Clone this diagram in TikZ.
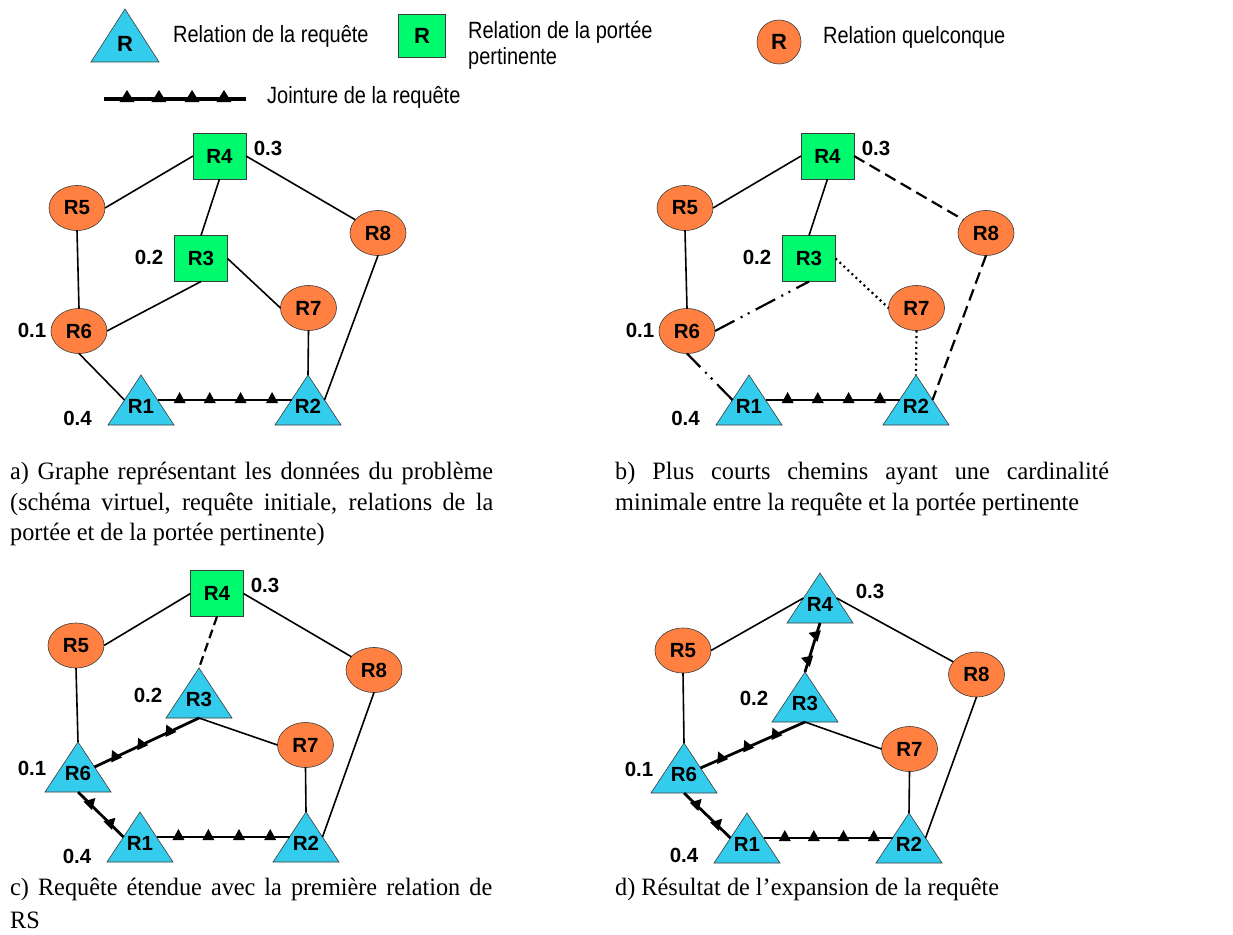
\documentclass[tikz,border=0pt]{standalone}
\usepackage{fontspec}
\setmainfont{Liberation Serif}[FakeStretch=0.97]
\setsansfont{Liberation Sans}
\newfontfamily\legfont{Liberation Sans}[FakeStretch=0.85]
\usetikzlibrary{shapes.geometric,decorations.markings}
\definecolor{cyanc}{RGB}{51,204,236}
\definecolor{greenc}{RGB}{0,250,110}
\definecolor{orangec}{RGB}{255,128,64}
\definecolor{bordc}{RGB}{60,60,60}
\newcommand\jtri{\fill (-6pt,-3pt) -- (6pt,-3pt) -- (0pt,8pt) -- cycle;}
\newcommand\jtrib{\fill (-7.5pt,-3pt) -- (7.5pt,-3pt) -- (0pt,9pt) -- cycle;}
\begin{document}
\begin{tikzpicture}[x=1pt,y=-1pt,
 nodefont/.style={font=\sffamily\bfseries\fontsize{20.5}{20.5}\selectfont},
 tri/.style={isosceles triangle, isosceles triangle stretches=true, shape border rotate=90, minimum width=66pt, minimum height=50pt, inner sep=0pt, outer sep=0pt, fill=cyanc, draw=bordc, line width=0.6pt, anchor=apex},
 sq/.style={rectangle, minimum width=53pt, minimum height=46pt, inner sep=0pt, outer sep=0pt, fill=greenc, draw=bordc, line width=0.6pt, nodefont},
 ell/.style={ellipse, minimum width=56pt, minimum height=45pt, inner sep=0pt, outer sep=0pt, fill=orangec, draw=bordc, line width=0.6pt, nodefont},
 tlab/.style={nodefont, inner sep=0pt},
 num/.style={nodefont, inner sep=0pt},
 legtxt/.style={font=\legfont\fontsize{23.5}{27}\selectfont, inner sep=0pt, anchor=base west},
 captxt/.style={font=\fontsize{25}{30}\selectfont, inner sep=0pt, anchor=base west},
 edge/.style={line width=1.6pt},
 dashedge/.style={line width=2.2pt, dash pattern=on 12pt off 6pt},
 shortdash/.style={line width=2.2pt, dash pattern=on 9pt off 5pt},
 dotedge/.style={line width=2.2pt, dash pattern=on 2pt off 3.5pt},
 dddedge/.style={line width=2.2pt, dash pattern=on 22pt off 7pt on 2pt off 6pt on 2pt off 7pt},
 jfour/.style={line width=2.8pt, postaction={decorate}, decoration={markings,
   mark=at position 0.165 with {\jtri}, mark=at position 0.39 with {\jtri},
   mark=at position 0.62 with {\jtri}, mark=at position 0.855 with {\jtri}}},
 jthree/.style={line width=2.8pt, postaction={decorate}, decoration={markings,
   mark=at position 0.2 with {\jtri}, mark=at position 0.45 with {\jtri},
   mark=at position 0.72 with {\jtri}}},
 jtwo/.style 2 args={line width=2.8pt, postaction={decorate}, decoration={markings,
   mark=at position #1 with {\jtri}, mark=at position #2 with {\jtri}}},
 jleg/.style={line width=3.2pt, postaction={decorate}, decoration={markings,
   mark=at position 0.162 with {\jtrib}, mark=at position 0.387 with {\jtrib},
   mark=at position 0.62 with {\jtrib}, mark=at position 0.845 with {\jtrib}}}
]
\fill[white] (0,0) rectangle (1233,934);
\useasboundingbox (0,0) rectangle (1233,934);

% ---------------- legend ----------------
\node[tri, minimum width=68pt, minimum height=53pt] (lgTri) at (125,9) {};
\node[tlab, font=\sffamily\bfseries\fontsize{22}{22}\selectfont] (lgTriT) at (125,44) {R};
\node[legtxt] (lgT1) at (173,43) {Relation de la requête};
\node[sq, minimum width=47pt, minimum height=43pt, font=\sffamily\bfseries\fontsize{22}{22}\selectfont] (lgSq) at (422,36) {R};
\node[legtxt] (lgT2a) at (468,38) {Relation de la portée};
\node[legtxt] (lgT2b) at (468,64) {pertinente};
\node[ell, minimum width=44pt, minimum height=44pt, font=\sffamily\bfseries\fontsize{22}{22}\selectfont] (lgEl) at (779,42) {R};
\node[legtxt] (lgT3) at (823,44) {Relation quelconque};
\coordinate (lgA) at (104,99);
\coordinate (lgB) at (246,99);
\draw[jleg] (lgA) -- (lgB);
\node[legtxt] (lgT4) at (267,103) {Jointure de la requête};

% ---------------- panel a ----------------
\node[sq] (aR4) at (219.5,156) {R4};
\node[sq] (aR3) at (201,258.5) {R3};
\node[ell] (aR5) at (77,208) {R5};
\node[ell] (aR6) at (79,331) {R6};
\node[ell] (aR7) at (308.5,308) {R7};
\node[ell] (aR8) at (378,233) {R8};
\node[tri] (aR1) at (141,375) {};
\node[tri] (aR2) at (308,375) {};
\draw[edge] (aR4.west) -- (aR5.east);
\draw[edge] (aR4.south) -- (aR3.north);
\draw[edge] (aR4.east) -- (aR8);
\draw[edge] (aR5.south) -- (aR6.north);
\draw[edge] (aR3.south) -- (aR6.east);
\draw[edge] (aR3.east) -- (aR7.west);
\draw[edge] (aR6.south) -- (aR1.left side);
\draw[edge] (aR7.south) -- (aR2.apex);
\draw[edge] (aR8.south) -- (aR2.right side);
\draw[jfour] (aR1.right side) -- (aR2.left side);
\node[tlab] (aR1t) at (141,406) {R1};
\node[tlab] (aR2t) at (308,406) {R2};
\node[num] (aN3) at (268,148) {0.3};
\node[num] (aN2) at (149,257) {0.2};
\node[num] (aN1) at (32,330) {0.1};
\node[num] (aN4) at (77.5,418) {0.4};

% ---------------- panel b ----------------
\node[sq] (bR4) at (827.5,156) {R4};
\node[sq] (bR3) at (809,258.5) {R3};
\node[ell] (bR5) at (685,208) {R5};
\node[ell] (bR6) at (687,331) {R6};
\node[ell] (bR7) at (916.5,308) {R7};
\node[ell] (bR8) at (986,233) {R8};
\node[tri] (bR1) at (749,375) {};
\node[tri] (bR2) at (916,375) {};
\draw[edge] (bR4.west) -- (bR5.east);
\draw[edge] (bR4.south) -- (bR3.north);
\draw[dashedge] (bR4.east) -- (bR8);
\draw[edge] (bR5.south) -- (bR6.north);
\draw[dddedge] (bR6.east) -- (bR3.south);
\draw[dotedge] (bR3.east) -- (bR7.west);
\draw[dddedge] (bR1.left side) -- (bR6.south);
\draw[dotedge] (bR7.south) -- (bR2.apex);
\draw[dashedge] (bR8.south) -- (bR2.right side);
\draw[jfour] (bR1.right side) -- (bR2.left side);
\node[tlab] (bR1t) at (749,406) {R1};
\node[tlab] (bR2t) at (916,406) {R2};
\node[num] (bN3) at (876,148) {0.3};
\node[num] (bN2) at (757,257) {0.2};
\node[num] (bN1) at (640,330) {0.1};
\node[num] (bN4) at (685.5,418) {0.4};

% ---------------- panel c ----------------
\node[sq] (cR4) at (217,593.5) {R4};
\node[ell] (cR5) at (76,645.5) {R5};
\node[ell] (cR8) at (374,670) {R8};
\node[ell] (cR7) at (305.5,745) {R7};
\node[tri] (cR3) at (199,668) {};
\node[tri] (cR6) at (78,742) {};
\node[tri] (cR1) at (140,812) {};
\node[tri] (cR2) at (306,812) {};
\draw[edge] (cR4.west) -- (cR5.east);
\draw[edge] (cR4.east) -- (cR8);
\draw[shortdash] (cR4.south) -- (cR3.apex);
\draw[edge] (cR5.south) -- (cR6.apex);
\draw[jthree] (cR6.right side) -- (cR3.lower side);
\draw[edge] (cR3.lower side) -- (cR7.west);
\draw[edge] (cR7.south) -- (cR2.apex);
\draw[edge] (cR8.south) -- (cR2.right side);
\draw[jtwo={0.26}{0.70}] (cR6.lower side) -- (cR1.left side);
\draw[jfour] (cR1.right side) -- (cR2.left side);
\node[tlab] (cR3t) at (199,699) {R3};
\node[tlab] (cR6t) at (78,773) {R6};
\node[tlab] (cR1t) at (140,843) {R1};
\node[tlab] (cR2t) at (306,843) {R2};
\node[num] (cN3) at (265,585) {0.3};
\node[num] (cN2) at (148,695) {0.2};
\node[num] (cN1) at (32,768) {0.1};
\node[num] (cN4) at (77,856) {0.4};

% ---------------- panel d ----------------
\node[tri] (dR4) at (820,573) {};
\node[ell] (dR5) at (683,650.5) {R5};
\node[ell] (dR8) at (976.5,674.5) {R8};
\node[ell] (dR7) at (909.5,749) {R7};
\node[tri] (dR3) at (805,672) {};
\node[tri] (dR6) at (684,743) {};
\node[tri] (dR1) at (747,813) {};
\node[tri] (dR2) at (909,813) {};
\draw[edge] (dR4.left side) -- (dR5.east);
\draw[edge] (dR4.right side) -- (dR8);
\draw[jtwo={0.24}{0.75}] (dR3.apex) -- (dR4.lower side);
\draw[edge] (dR5.south) -- (dR6.apex);
\draw[jthree] (dR6.right side) -- (dR3.lower side);
\draw[edge] (dR3.lower side) -- (dR7.west);
\draw[edge] (dR7.south) -- (dR2.apex);
\draw[edge] (dR8.south) -- (dR2.right side);
\draw[jtwo={0.26}{0.70}] (dR6.lower side) -- (dR1.left side);
\draw[jfour] (dR1.right side) -- (dR2.left side);
\node[tlab] (dR4t) at (820,604) {R4};
\node[tlab] (dR3t) at (805,703) {R3};
\node[tlab] (dR6t) at (684,774) {R6};
\node[tlab] (dR1t) at (747,844) {R1};
\node[tlab] (dR2t) at (909,844) {R2};
\node[num] (dN3) at (870,591) {0.3};
\node[num] (dN2) at (754,698) {0.2};
\node[num] (dN1) at (639,769) {0.1};
\node[num] (dN4) at (684,855) {0.4};

% ---------------- captions ----------------
\node[captxt] (capA1) at (10,479) {\hbox to 483pt{a) Graphe représentant les données du problème}};
\node[captxt] (capA2) at (10,510) {\hbox to 483pt{(schéma virtuel, requête initiale, relations de la}};
\node[captxt] (capA3) at (10,540) {portée et de la portée pertinente)};
\node[captxt] (capB1) at (615,479) {\hbox to 494pt{b) Plus courts chemins ayant une cardinalité}};
\node[captxt] (capB2) at (615,510) {minimale entre la requête et la portée pertinente};
\node[captxt] (capC1) at (10,895) {\hbox to 482pt{c) Requête étendue avec la première relation de}};
\node[captxt] (capC2) at (10,928) {RS};
\node[captxt] (capD1) at (615,895) {d) Résultat de l’expansion de la requête};
\end{tikzpicture}
\end{document}
